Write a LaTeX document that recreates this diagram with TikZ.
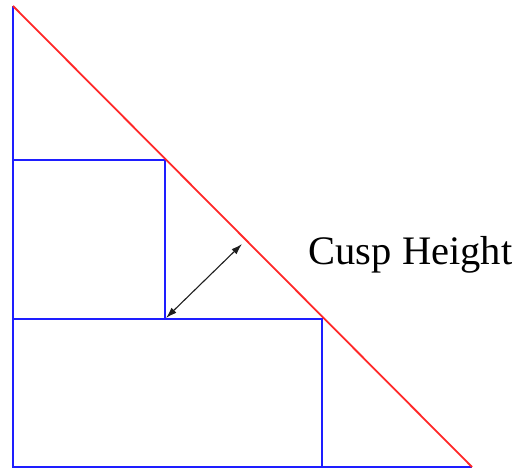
\documentclass[tikz,border=0pt]{standalone}
\usepackage{fontspec}
\setmainfont{Liberation Serif}
\usetikzlibrary{arrows.meta}
\begin{document}
\begin{tikzpicture}[x=1pt,y=-1pt,
  blueline/.style={draw={rgb,255:red,30;green,30;blue,255},line width=1.8pt},
  redline/.style={draw={rgb,255:red,255;green,40;blue,40},line width=1.8pt},
  dimarrow/.style={draw={rgb,255:red,30;green,30;blue,30},line width=1.1pt,{Latex[length=11pt,width=7pt]}-{Latex[length=11pt,width=7pt]}},
  label/.style={font=\fontsize{40.5}{45}\selectfont,anchor=base,inner sep=0pt}]
\useasboundingbox (0,0) rectangle (517,470);
\coordinate (top) at (13,6);
\coordinate (bl) at (13,467);
\coordinate (br) at (472,467);
\coordinate (r1) at (165,160);
\coordinate (r2) at (322,319);
\coordinate (a1) at (166,318);
\coordinate (a2) at (242,244);
\draw[blueline] (top) -- (bl) -- (br);
\draw[blueline] (13,160) -| (r1) |- (13,319);
\draw[blueline] (13,319) -| (r2) -- (322,467);
\draw[redline] (top) -- (br);
\draw[dimarrow] (a1) -- (a2);
\node[label] (cusp) at (410.5,265) {Cusp Height};
\end{tikzpicture}
\end{document}
